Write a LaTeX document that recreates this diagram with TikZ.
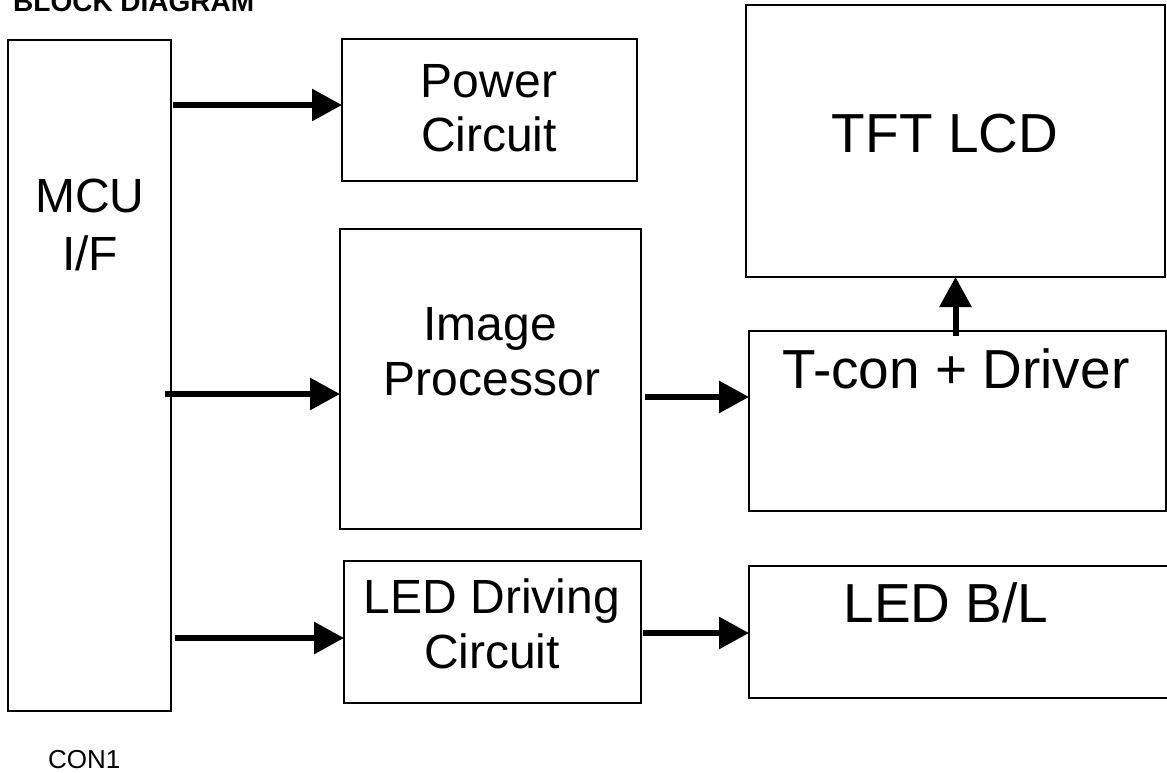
\documentclass[tikz,border=0pt]{standalone}
\usepackage{fontspec}
\setmainfont{Liberation Sans}
\usetikzlibrary{arrows.meta}
\tikzset{
  blk/.style={draw=black, line width=2pt, rectangle, inner sep=0pt, outer sep=0pt, fill=white},
  arr/.style={line width=6pt, -{Triangle[length=30pt,width=31pt]}},
  big/.style={font=\fontsize{48}{56}\selectfont, anchor=base, inner sep=0pt},
  bigger/.style={font=\fontsize{55}{64}\selectfont, anchor=base, inner sep=0pt},
  small/.style={font=\fontsize{26}{30}\selectfont, anchor=base west, inner sep=0pt},
  ttl/.style={font=\bfseries\fontsize{28}{32}\selectfont, anchor=base west, inner sep=0pt}
}
\begin{document}
\begin{tikzpicture}[x=1pt,y=-1pt]
\clip (0,0) rectangle (1167,773);
\fill[white] (0,0) rectangle (1167,773);
% boxes
\node[blk, minimum width=163pt, minimum height=671pt] (mcu) at (89.5,375.5) {};
\node[blk, minimum width=295pt, minimum height=142pt] (power) at (489.5,110) {};
\node[blk, minimum width=301pt, minimum height=300pt] (img) at (490.5,379) {};
\node[blk, minimum width=297pt, minimum height=142pt] (drv) at (492.5,632) {};
\node[blk, minimum width=419pt, minimum height=272pt] (tft) at (955.5,141) {};
\node[blk, minimum width=417pt, minimum height=180pt] (tcon) at (957.5,421) {};
\node[blk, minimum width=441pt, minimum height=132pt] (bl) at (969.5,632) {};
% texts
\node[ttl] (title) at (13,12) {BLOCK DIAGRAM};
\node[small] (con) at (48,768) {CON1};
\node[big] (t1) at (90,212) {MCU};
\node[big] (t2) at (90,270) {I/F};
\node[big] (t3) at (489,98) {Power};
\node[big] (t4) at (489,152) {Circuit};
\node[big] (t5) at (490,340) {Image};
\node[big] (t6) at (492,395) {Processor};
\node[big] (t7) at (492,613) {LED Driving};
\node[big] (t8) at (492,668) {Circuit};
\node[bigger] (t9) at (945,153) {TFT LCD};
\node[bigger] (t10) at (956,388) {T-con + Driver};
\node[bigger] (t11) at (946,622) {LED B/L};
% connectors
\draw[arr] ([xshift=2pt]mcu.east |- 0,105) -- (power.west |- 0,105);
\draw[arr] ([xshift=-6pt]mcu.east |- 0,394) -- (img.west |- 0,394);
\draw[arr] ([xshift=4pt]img.east |- 0,397) -- (tcon.west |- 0,397);
\draw[arr] ([xshift=4pt]mcu.east |- 0,638) -- (drv.west |- 0,638);
\draw[arr] ([xshift=2pt]drv.east |- 0,633) -- (bl.west |- 0,633);
\draw[arr] ([yshift=-5pt]tcon.north -| tft.south) -- (tft.south);
\end{tikzpicture}
\end{document}
